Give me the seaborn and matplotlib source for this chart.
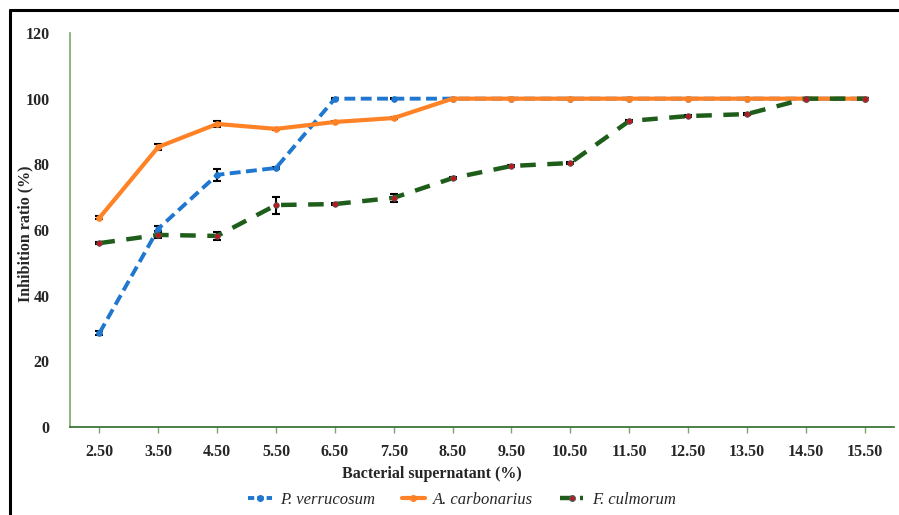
import numpy as np
import pandas as pd
import matplotlib
matplotlib.use('Agg')
import matplotlib.pyplot as plt
import seaborn as sns
from matplotlib.lines import Line2D

# data
conc = ['2.50', '3.50', '4.50', '5.50', '6.50', '7.50', '8.50', '9.50',
        '10.50', '11.50', '12.50', '13.50', '14.50', '15.50']
p_verr = [28.6, 60.4, 76.8, 78.9, 100, 100, 100, 100, 100, 100, 100, 100, 100, 100]
a_carb = [63.7, 85.3, 92.3, 90.8, 92.9, 94.1, 100, 100, 100, 100, 100, 100, 100, 100]
f_culm = [56.0, 58.5, 58.2, 67.6, 67.9, 69.8, 75.8, 79.5, 80.4, 93.2, 94.7, 95.3, 100, 100]
p_err = [0.5, 0.8, 1.8, 0.4, 0.2, 0.2, 0.2, 0.2, 0.2, 0.2, 0.2, 0.2, 0.2, 0.2]
a_err = [0.5, 0.8, 1.0, 0.4, 0.3, 0.3, 0.2, 0.2, 0.2, 0.2, 0.2, 0.2, 0.2, 0.2]
f_err = [0.4, 1.0, 1.2, 2.6, 0.3, 1.2, 0.3, 0.3, 0.3, 0.3, 0.3, 0.3, 0.3, 0.3]

df = pd.DataFrame({'conc': conc, 'P': p_verr, 'A': a_carb, 'F': f_culm})
xpos = np.arange(len(conc))

sns.set_style('white')
plt.rcParams['font.family'] = ['Liberation Serif', 'DejaVu Serif']

fig = plt.figure(figsize=(8.99, 5.15), dpi=100)
ax = fig.add_axes([70 / 899, 1 - 427 / 515, 824 / 899, 394 / 515])

blue = '#1f77d0'
orange = '#ff8226'
green = '#1e5e1a'

# P. verrucosum
ax.errorbar(xpos, p_verr, yerr=p_err, fmt='none', ecolor='black', elinewidth=1.5, capsize=3, capthick=1.5, zorder=2)
sns.lineplot(data=df, x='conc', y='P', ax=ax, color=blue, lw=2.8, linestyle=(0, (2.8, 1.4)),
             marker='o', markersize=4, markeredgecolor=blue, sort=False, zorder=3)
# A. carbonarius
ax.errorbar(xpos, a_carb, yerr=a_err, fmt='none', ecolor='black', elinewidth=1.5, capsize=3, capthick=1.5, zorder=2)
sns.lineplot(data=df, x='conc', y='A', ax=ax, color=orange, lw=3, marker='o', markersize=4,
             markeredgecolor=orange, sort=False, zorder=4)
# F. culmorum
ax.errorbar(xpos, f_culm, yerr=f_err, fmt='none', ecolor='black', elinewidth=1.5, capsize=3, capthick=1.5, zorder=2)
sns.lineplot(data=df, x='conc', y='F', ax=ax, color=green, lw=3.2, linestyle=(0, (3.5, 2.6)),
             marker='o', markersize=4, markerfacecolor='#c0161b', markeredgecolor='#555555',
             markeredgewidth=0.6, sort=False, zorder=5)

ax.set_xlim(-0.5, len(conc) - 0.5)
ax.set_ylim(0, 120)
ax.set_yticks(range(0, 121, 20))
ax.set_xticks(xpos)
ax.set_xticklabels(conc)
for lab in ax.get_xticklabels() + ax.get_yticklabels():
    lab.set_fontweight('bold')
    lab.set_fontsize(11.5)

ax.spines['top'].set_visible(False)
ax.spines['right'].set_visible(False)
ax.spines['left'].set_color('#7aa86a')
ax.spines['bottom'].set_color('#2e6b2a')
ax.spines['left'].set_linewidth(1.2)
ax.spines['bottom'].set_linewidth(1.2)
ax.tick_params(axis='x', bottom=True, length=4, width=1, color='#7aa86a', pad=8)
ax.tick_params(axis='y', left=False, pad=11)
ax.grid(False)

ax.set_xlabel('Bacterial supernatant (%)', fontsize=11.5, fontweight='bold')
ax.set_ylabel('Inhibition ratio (%)', fontsize=11.5, fontweight='bold')
ax.xaxis.set_label_coords((432 - 70) / 824, -39 / 394)
ax.yaxis.set_label_coords((33 - 70) / 824, 0.49)

handles = [
    Line2D([], [], color=blue, lw=2.8, linestyle=(0, (1.6, 0.8)), marker='o', markersize=4),
    Line2D([], [], color=orange, lw=3, marker='o', markersize=4),
    Line2D([], [], color=green, lw=3.2, linestyle=(0, (2.5, 2.0)), marker='o', markersize=4,
           markerfacecolor='#c0161b', markeredgecolor='#555555'),
]
labels = ['P. verrucosum', 'A. carbonarius', 'F. culmorum']
leg = fig.legend(handles, labels, loc='center', bbox_to_anchor=(462 / 899, 1 - 500 / 515), ncol=3,
                 frameon=False, prop={'style': 'italic', 'size': 12}, handlelength=1.4,
                 columnspacing=1.6, handletextpad=0.5)

# border lines at the left and top of the frame
fig.add_artist(Line2D([10 / 899, 10 / 899], [0, 1 - 10 / 515], color='black', lw=2.2,
                      transform=fig.transFigure))
fig.add_artist(Line2D([10 / 899, 1], [1 - 10 / 515, 1 - 10 / 515], color='black', lw=2.2,
                      transform=fig.transFigure))

fig.savefig('out.png', dpi=100)
